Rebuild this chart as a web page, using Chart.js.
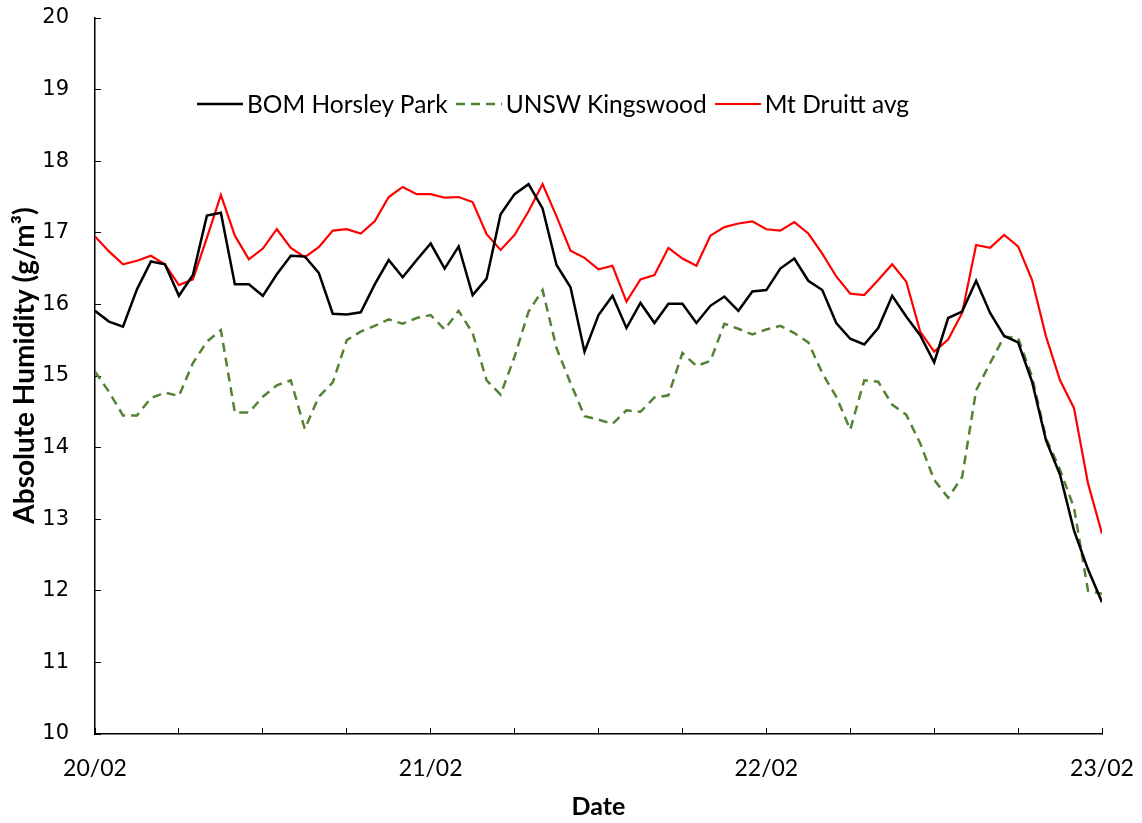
<!DOCTYPE html>
<html>
<head>
<meta charset="utf-8">
<script src="https://cdn.jsdelivr.net/npm/chart.js@4/dist/chart.umd.min.js"></script>
<style>
html,body{margin:0;padding:0;background:#fff;}
#wrap{position:relative;width:1142px;height:823px;}
#legend{position:absolute;left:197px;top:90px;display:flex;align-items:center;font-family:Lato,sans-serif;font-size:24.5px;line-height:28px;color:#000;white-space:nowrap;}
.item{display:flex;align-items:center;margin-right:8px;}
.item svg{margin-right:4px;display:block;}
</style>
</head>
<body>
<div id="wrap">
<canvas id="c" width="1142" height="823"></canvas>
<div id="legend"></div>
</div>
<script>
// Hours since 20/02 00:00
const hours = [0,1,2,3,4,5,6,7,8,9,10,11,12,13,14,15,16,17,18,19,20,21,22,23,
  24,25,26,27,28,29,30,31,32,33,34,35,36,37,38,39,40,41,42,43,44,45,46,47,
  48,49,50,51,52,53,54,55,56,57,58,59,60,61,62,63,64,65,66,67,68,69,70,71,72];

const dayLabels = ["20/02", "21/02", "22/02", "23/02"];
const yTickValues = [10,11,12,13,14,15,16,17,18,19,20];

const seriesNames = ["BOM Horsley Park", "UNSW Kingswood", "Mt Druitt avg"];

const bomHorsleyPark = [15.91,15.76,15.69,16.21,16.60,16.56,16.12,16.41,17.24,17.28,16.28,16.28,
  16.12,16.42,16.68,16.67,16.44,15.87,15.86,15.89,16.28,16.62,16.38,16.62,
  16.85,16.50,16.81,16.13,16.36,17.26,17.54,17.68,17.34,16.55,16.24,15.34,
  15.85,16.12,15.67,16.02,15.74,16.01,16.01,15.74,15.98,16.11,15.91,16.18,
  16.20,16.50,16.64,16.33,16.20,15.74,15.52,15.44,15.67,16.12,15.83,15.57,
  15.19,15.81,15.90,16.33,15.88,15.56,15.47,14.92,14.10,13.62,12.84,12.30,11.84];

const unswKingswood = [15.06,14.78,14.45,14.45,14.69,14.77,14.72,15.18,15.48,15.64,14.49,14.49,
  14.71,14.87,14.94,14.26,14.71,14.91,15.50,15.62,15.70,15.79,15.73,15.81,
  15.85,15.65,15.91,15.60,14.94,14.74,15.27,15.90,16.20,15.39,14.90,14.44,
  14.39,14.33,14.52,14.50,14.70,14.73,15.32,15.14,15.21,15.73,15.66,15.58,
  15.65,15.70,15.60,15.47,15.04,14.71,14.25,14.94,14.92,14.60,14.46,14.06,
  13.55,13.30,13.59,14.80,15.18,15.55,15.53,14.99,14.13,13.69,13.16,12.00,11.96];

const mtDruittAvg = [16.95,16.74,16.56,16.61,16.68,16.56,16.27,16.35,16.93,17.53,16.96,16.63,
  16.78,17.05,16.79,16.66,16.80,17.03,17.05,16.99,17.16,17.50,17.64,17.54,
  17.54,17.49,17.50,17.43,16.98,16.76,16.97,17.30,17.68,17.23,16.75,16.65,
  16.49,16.54,16.04,16.35,16.41,16.79,16.64,16.54,16.96,17.08,17.13,17.16,
  17.05,17.03,17.15,16.99,16.71,16.39,16.15,16.13,16.34,16.56,16.32,15.62,
  15.34,15.51,15.88,16.83,16.79,16.97,16.81,16.34,15.55,14.94,14.55,13.50,12.80];

const seriesValues = [bomHorsleyPark, unswKingswood, mtDruittAvg];
const seriesColors = ["#000000", "#548235", "#ff0000"];
const seriesWidths = [2.5, 2.5, 2.2];
const seriesDashes = [[], [9, 6], []];

const datasets = seriesValues.map((vals, s) => ({
  label: seriesNames[s],
  data: hours.map((h, i) => ({x: h, y: vals[i]})),
  borderColor: seriesColors[s],
  backgroundColor: seriesColors[s],
  borderWidth: seriesWidths[s],
  borderDash: seriesDashes[s],
  pointRadius: 0,
  tension: 0,
  fill: false
}));

const axisGrid = {drawOnChartArea: false, drawTicks: true, tickLength: -6, tickColor: '#000', tickWidth: 1};
const axisBorder = {display: true, color: '#000', width: 1.5};

function zeroPad(s) {
  s.paddingTop = 0; s.paddingBottom = 0; s.paddingLeft = 0; s.paddingRight = 0;
}

new Chart(document.getElementById('c'), {
  type: 'line',
  data: {datasets: datasets},
  options: {
    responsive: false,
    animation: false,
    devicePixelRatio: 1,
    layout: {padding: {left: 0, top: 18, right: 40, bottom: 0}},
    plugins: {legend: {display: false}, tooltip: {enabled: false}},
    scales: {
      x: {
        type: 'linear', min: 0, max: 72,
        afterFit: s => { s.height = 89; zeroPad(s); },
        ticks: {
          stepSize: 6, maxTicksLimit: 30, autoSkip: false, maxRotation: 0, padding: 27,
          color: '#000', font: {family: 'Lato', size: 23},
          callback: v => (v % 24 === 0 ? dayLabels[v / 24] : '')
        },
        grid: axisGrid,
        border: axisBorder,
        title: {display: true, text: 'Date', color: '#000',
          font: {family: 'Lato', size: 25, weight: 'bold'}, padding: {top: 0, bottom: 1}}
      },
      y: {
        min: yTickValues[0], max: yTickValues[yTickValues.length - 1],
        afterFit: s => { s.width = 95; zeroPad(s); },
        afterBuildTicks: s => { s.ticks = yTickValues.map(v => ({value: v})); },
        ticks: {padding: 32, color: '#000', font: {family: 'DejaVu Sans', size: 21}},
        grid: axisGrid,
        border: axisBorder,
        title: {display: true, text: '\u2003Absolute Humidity (g/m³)', color: '#000',
          font: {family: 'Lato', size: 28, weight: 'bold'}, padding: {top: 8, bottom: 0}}
      }
    }
  }
});

// HTML legend (inside the plot area, as in the reference)
const legend = document.getElementById('legend');
seriesNames.forEach((name, s) => {
  const item = document.createElement('div');
  item.className = 'item';
  const dash = seriesDashes[s].length ? seriesDashes[s].join(' ') : 'none';
  item.innerHTML = '<svg width="46" height="10"><line x1="0" y1="5" x2="46" y2="5" stroke="' + seriesColors[s] +
    '" stroke-width="' + seriesWidths[s] + '" stroke-dasharray="' + dash + '"/></svg><span>' + name + '</span>';
  legend.appendChild(item);
});
</script>
</body>
</html>
